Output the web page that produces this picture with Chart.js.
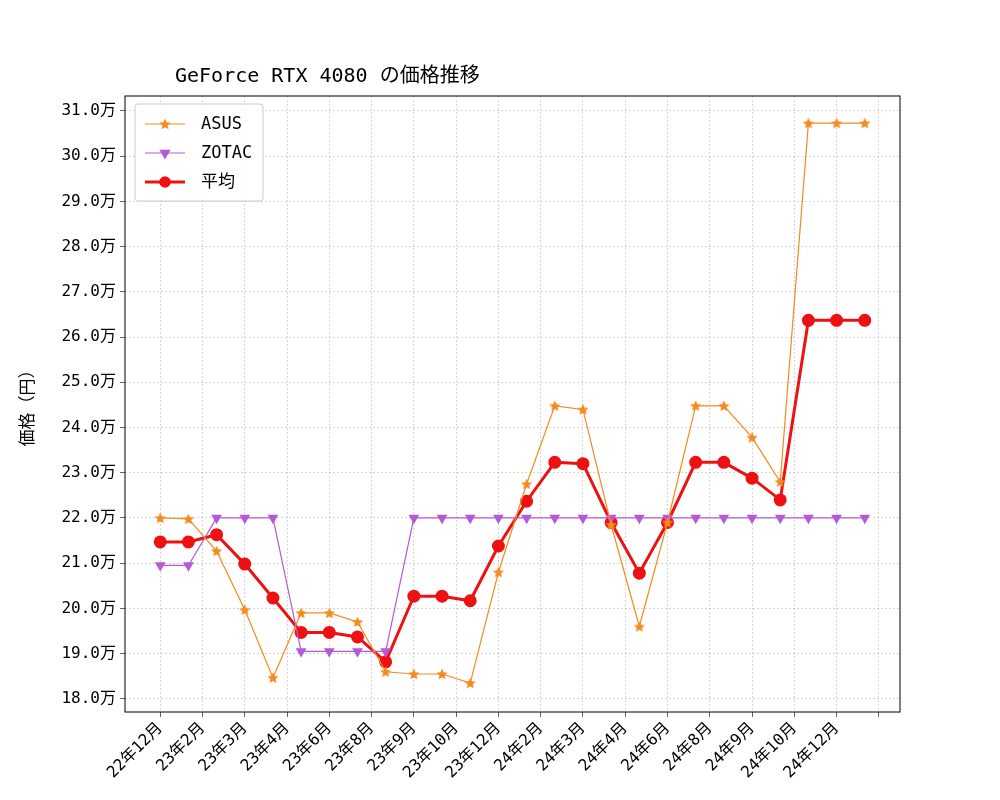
<!DOCTYPE html>
<html><head><meta charset="utf-8">
<script src="https://cdn.jsdelivr.net/npm/chart.js@4/dist/chart.umd.min.js"></script>
<style>body{margin:0;background:#fff}#w{width:1000px;height:800px}</style>
</head><body><div id="w"><canvas id="c"></canvas></div>
<script>
const tickLabels=["22年12月","23年2月","23年3月","23年4月","23年6月","23年8月","23年9月","23年10月","23年12月","24年2月","24年3月","24年4月","24年6月","24年8月","24年9月","24年10月","24年12月",""];
const asus=[22.0,21.98,21.27,19.97,18.47,19.9,19.9,19.7,18.6,18.55,18.55,18.35,20.8,22.75,24.48,24.4,21.85,19.6,21.9,24.48,24.48,23.78,22.8,30.73,30.73,30.73];
const zotac=[20.95,20.95,22.0,22.0,22.0,19.05,19.05,19.05,19.05,22.0,22.0,22.0,22.0,22.0,22.0,22.0,22.0,22.0,22.0,22.0,22.0,22.0,22.0,22.0,22.0,22.0];
const avg=[21.47,21.47,21.63,20.98,20.23,19.47,19.47,19.37,18.82,20.27,20.27,20.17,21.38,22.37,23.23,23.2,21.9,20.78,21.9,23.23,23.23,22.88,22.4,26.37,26.37,26.37];
const F='"DejaVu Sans Mono", "Noto Sans CJK JP", monospace';
const pts=a=>a.map((y,i)=>({x:i,y}));
function starImg(r,color){const c=document.createElement('canvas');const s=Math.ceil(r*2+4);c.width=s;c.height=s;const g=c.getContext('2d');g.translate(s/2,s/2+0.5);g.beginPath();
for(let i=0;i<10;i++){const rr=i%2?r*0.45:r;const a=-Math.PI/2+i*Math.PI/5;g.lineTo(rr*Math.cos(a),rr*Math.sin(a));}g.closePath();g.fillStyle=color;g.fill();return c;}
const star=starImg(6,'#f58a1f');
const frame={id:'frame',afterDraw(ch){const {ctx,chartArea:a}=ch;ctx.save();ctx.strokeStyle='#000';ctx.lineWidth=1;ctx.strokeRect(a.left,a.top,a.right-a.left,a.bottom-a.top);
ctx.fillStyle='#000';ctx.font='20px '+F;ctx.textAlign='left';ctx.textBaseline='alphabetic';ctx.fillText('GeForce RTX 4080 の価格推移',175,82);
const L=135,T=104;ctx.fillStyle='rgba(255,255,255,0.85)';ctx.strokeStyle='#ccc';ctx.beginPath();ctx.roundRect(L,T,128,97,3);ctx.fill();ctx.stroke();
const items=[['ASUS','#f58a1f',1,star,0,5],['ZOTAC','#b35ad8',1,'triangle',180,5],['平均','#ee1111',3,'circle',0,5]];
items.forEach((it,i)=>{const y=T+20+i*29;ctx.strokeStyle=it[1];ctx.lineWidth=it[2];ctx.beginPath();ctx.moveTo(L+10,y);ctx.lineTo(L+50,y);ctx.stroke();
ctx.fillStyle=it[1];ctx.lineWidth=1.5;Chart.helpers.drawPoint(ctx,{pointStyle:it[3],radius:it[5],rotation:it[4],borderWidth:1.5},L+30,y);
ctx.fillStyle='#000';ctx.font='17px '+F;ctx.textBaseline='middle';ctx.fillText(it[0],L+66,y+1);});
ctx.restore();}};
new Chart(document.getElementById('c'),{type:'line',
data:{datasets:[
{label:'ASUS',data:pts(asus),borderColor:'#f58a1f',backgroundColor:'#f58a1f',borderWidth:1.2,pointStyle:star,pointRadius:5},
{label:'ZOTAC',data:pts(zotac),borderColor:'#b35ad8',backgroundColor:'#b35ad8',borderWidth:1.2,pointStyle:'triangle',rotation:180,pointRadius:5},
{label:'平均',data:pts(avg),borderColor:'#ee1111',backgroundColor:'#ee1111',borderWidth:3,pointStyle:'circle',pointRadius:5}]},
options:{responsive:true,maintainAspectRatio:false,animation:false,
layout:{padding:{top:96,right:100,left:18,bottom:0}},
plugins:{legend:{display:false},tooltip:{enabled:false}},
scales:{
x:{type:'linear',min:-1.25,max:26.25,
afterBuildTicks(ax){ax.ticks=[];for(let v=0;v<=25.6;v+=1.5)ax.ticks.push({value:v});},
afterFit(ax){ax.height=88;},
ticks:{autoSkip:false,maxRotation:45,minRotation:45,color:'#000',font:{family:F,size:16},padding:2,
callback:(v)=>tickLabels[Math.round(v/1.5)]??''},
grid:{color:'#bbb',lineWidth:0.6,tickLength:5,tickColor:'#000'},border:{dash:[2,2],display:false}},
y:{type:'linear',min:17.71,max:31.33,
afterBuildTicks(ax){ax.ticks=[];for(let v=18;v<=31;v++)ax.ticks.push({value:v});},
afterFit(ax){ax.width=107;},
ticks:{color:'#000',font:{family:F,size:16},padding:4,callback:v=>v.toFixed(1)+'万'},
title:{display:true,text:'価格（円）',color:'#000',font:{family:F,size:17},padding:0},
grid:{color:'#bbb',lineWidth:0.6,tickLength:5,tickColor:'#000'},border:{dash:[2,2],display:false}}}},
plugins:[frame]});
</script></body></html>
